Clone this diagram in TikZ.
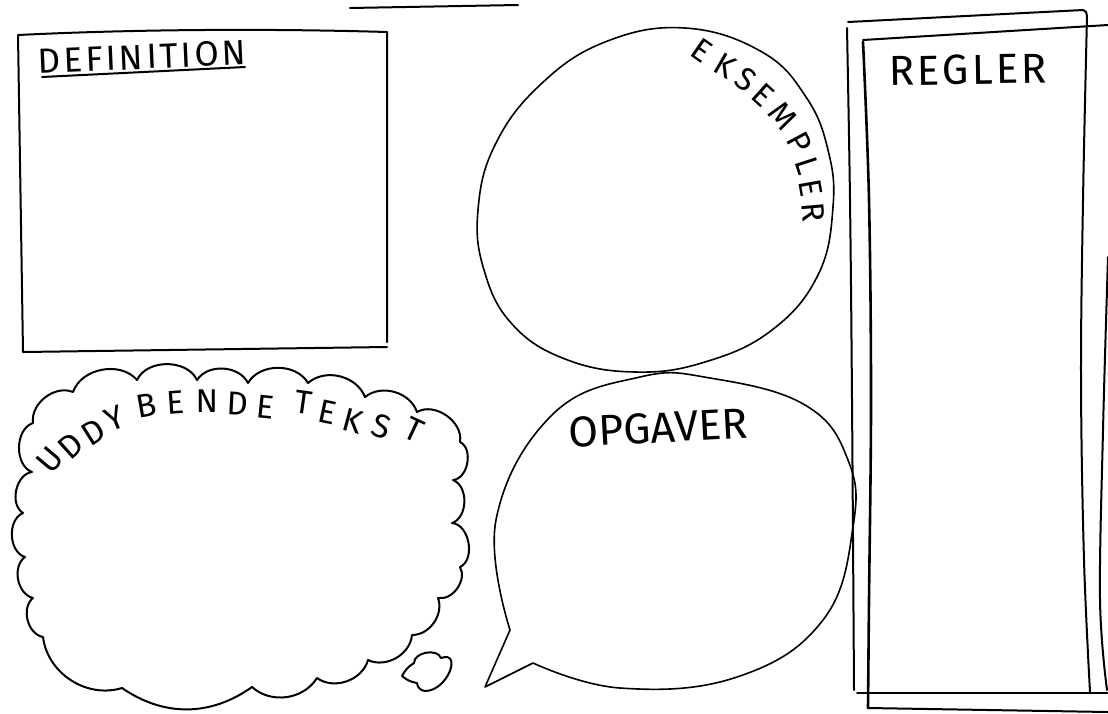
\documentclass[tikz,border=0pt]{standalone}
\usepackage{fontspec}
\newfontfamily\hand{Fira Sans}
\begin{document}
\begin{tikzpicture}[x=0.5pt,y=-0.5pt,
  ink/.style={line width=1pt,line cap=round,line join=round},
  thinink/.style={line width=0.8pt,line cap=round,line join=round},
  lbl/.style={inner sep=0pt,font=\hand\fontsize{17.5}{20}\selectfont},
  eks/.style={inner sep=0pt,font=\hand\fontsize{16}{18}\selectfont},
  udd/.style={inner sep=0pt,font=\hand\fontsize{16.5}{20}\selectfont}]
\useasboundingbox (0,0) rectangle (1108,713);
\fill[white] (0,0) rectangle (1108,713);

% top stray line
\draw[ink] (350,8) -- (518,5);

% DEFINITION box
\draw[ink] (387,342) -- (387,32) .. controls (250,28) and (120,30) .. (18,35) -- (23,352) -- (387,347);
\node[lbl,rotate=2.5] (def) at (142,57) {\addfontfeatures{LetterSpace=9}DEFINITION};
\draw[ink] (42,77) -- (245,67);

% EKSEMPLER egg
\draw[thinink] plot[smooth cycle,tension=0.7] coordinates {(685,28) (762,52) (806,97) (828,150) (833,207) (818,275) (772,330) (705,362) (635,372) (565,359) (512,324) (484,270) (478,210) (495,145) (540,85) (605,42)};
\node[eks,rotate=-35] (e1) at (702,50) {E};
\node[eks,rotate=-30] (e2) at (725,66) {K};
\node[eks,rotate=-35] (e3) at (746,79) {S};
\node[eks,rotate=-42] (e4) at (763,95) {E};
\node[eks,rotate=-50] (e5) at (783,116) {M};
\node[eks,rotate=-62] (e6) at (800,143) {P};
\node[eks,rotate=-72] (e7) at (807,166) {L};
\node[eks,rotate=-80] (e8) at (811,188) {E};
\node[eks,rotate=-85] (e9) at (813,212) {R};

% OPGAVER speech bubble
\draw[thinink] plot[smooth,tension=0.7] coordinates {(533,663) (620,688) (737,677) (823,620) (853,527) (848,460) (805,405) (710,378) (640,377) (552,415) (496,520) (510,630)} -- (485,687) -- (533,663);
\node[lbl,font=\hand\fontsize{21.5}{24}\selectfont,rotate=3] (opg) at (658,428) {OPGAVER};

% REGLER rectangles
\draw[ink] (848,22) -- (1083,10) to[out=0,in=90] (1087,16);
\draw[ink] plot[smooth,tension=0.6] coordinates {(1087,16) (1083,200) (1081,380) (1084,560) (1090,692)};
\draw[ink] plot[smooth,tension=0.6] coordinates {(847,28) (850,200) (852,400) (854,690)};
\draw[ink] (857,693) -- (1108,693);
\draw[ink] (863,40) -- (1108,25);
\draw[line width=1.3pt,line cap=round] plot[smooth,tension=0.6] coordinates {(863,42) (869,200) (871,400) (869,600) (868,708)};
\draw[ink] (868,708) -- (1108,712);
\draw[ink] plot[smooth,tension=0.6] coordinates {(1108,257) (1103,430) (1100,600) (1107,690)};
\node[lbl,font=\hand\fontsize{21}{24}\selectfont,rotate=1] (reg) at (968,70) {\addfontfeatures{LetterSpace=7}REGLER};

% UDDYBENDE TEKST cloud
\draw[ink] (33,423) to[bend left=60] (73,392) to[bend left=60] (137,380)
  to[bend left=65] (197,380) to[bend left=60] (248,383) to[bend left=60] (308,383)
  to[bend left=55] (365,397) to[bend left=55] (417,412) to[bend left=65] (460,442)
  to[bend left=75] (453,480) to[bend left=70] (452,523) to[bend left=75] (460,567)
  to[bend left=65] (438,598) to[bend left=55] (412,635) to[bend left=55] (368,660)
  to[bend left=55] (317,678) to[bend left=50] (252,687) to[bend left=35] (122,688)
  to[bend left=50] (43,637) to[bend left=65] (33,598) to[bend left=65] (25,557)
  to[bend left=70] (23,513) to[bend left=70] (32,472) to[bend left=70] (33,423);
\node[udd,rotate=50] (u1) at (50,460) {U};
\node[udd,rotate=42] (u2) at (71,446) {D};
\node[udd,rotate=32] (u3) at (93,432) {D};
\node[udd,rotate=22] (u4) at (115,419) {Y};
\node[udd,rotate=10] (u5) at (146,406) {B};
\node[udd,rotate=4] (u6) at (176,403) {E};
\node[udd,rotate=0] (u7) at (207,401) {N};
\node[udd,rotate=-3] (u8) at (238,404) {D};
\node[udd,rotate=-6] (u9) at (265,407) {E};
\node[udd,rotate=-8] (u10) at (304,402) {T};
\node[udd,rotate=-12] (u11) at (327,412) {E};
\node[udd,rotate=-15] (u12) at (353,421) {K};
\node[udd,rotate=-18] (u13) at (382,426) {S};
\node[udd,rotate=-25] (u14) at (414,430) {T};

% small thought cloud
\draw[ink] (402,676) to[bend left=15] (414,663) to[bend left=80] (441,658)
  to[out=20,in=0,looseness=1.6] (425,691) to[bend left=40] (417,683) to[bend left=15] (402,676);
\end{tikzpicture}
\end{document}
